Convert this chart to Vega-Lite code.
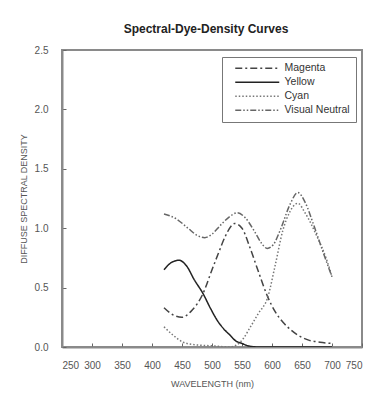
{
  "$schema": "https://vega.github.io/schema/vega-lite/v6.json",
  "width": 300,
  "height": 297,
  "autosize": "none",
  "padding": {"left": 62, "top": 50, "right": 22, "bottom": 53},
  "background": "white",
  "title": {"text": "Spectral-Dye-Density Curves", "font": "Liberation Sans", "fontSize": 12, "fontWeight": "bold", "color": "#222", "offset": 9, "dx": -6},
  "config": {
    "view": {"stroke": "#8a8a8a", "strokeWidth": 2},
    "font": "Liberation Sans"
  },
  "data": {"values": [
    {"series": "Magenta", "wavelength": 420, "density": 0.33},
    {"series": "Magenta", "wavelength": 435, "density": 0.27},
    {"series": "Magenta", "wavelength": 450, "density": 0.25},
    {"series": "Magenta", "wavelength": 465, "density": 0.30},
    {"series": "Magenta", "wavelength": 485, "density": 0.45},
    {"series": "Magenta", "wavelength": 500, "density": 0.65},
    {"series": "Magenta", "wavelength": 510, "density": 0.78},
    {"series": "Magenta", "wavelength": 522, "density": 0.93},
    {"series": "Magenta", "wavelength": 538, "density": 1.04},
    {"series": "Magenta", "wavelength": 550, "density": 1.00},
    {"series": "Magenta", "wavelength": 563, "density": 0.84},
    {"series": "Magenta", "wavelength": 577, "density": 0.64},
    {"series": "Magenta", "wavelength": 593, "density": 0.42},
    {"series": "Magenta", "wavelength": 605, "density": 0.30},
    {"series": "Magenta", "wavelength": 618, "density": 0.21},
    {"series": "Magenta", "wavelength": 630, "density": 0.15},
    {"series": "Magenta", "wavelength": 643, "density": 0.10},
    {"series": "Magenta", "wavelength": 660, "density": 0.06},
    {"series": "Magenta", "wavelength": 680, "density": 0.04},
    {"series": "Magenta", "wavelength": 700, "density": 0.03},
    {"series": "Yellow", "wavelength": 420, "density": 0.65},
    {"series": "Yellow", "wavelength": 432, "density": 0.71},
    {"series": "Yellow", "wavelength": 445, "density": 0.73},
    {"series": "Yellow", "wavelength": 458, "density": 0.68},
    {"series": "Yellow", "wavelength": 470, "density": 0.57},
    {"series": "Yellow", "wavelength": 485, "density": 0.45},
    {"series": "Yellow", "wavelength": 497, "density": 0.33},
    {"series": "Yellow", "wavelength": 508, "density": 0.23},
    {"series": "Yellow", "wavelength": 520, "density": 0.15},
    {"series": "Yellow", "wavelength": 530, "density": 0.10},
    {"series": "Yellow", "wavelength": 540, "density": 0.05},
    {"series": "Yellow", "wavelength": 550, "density": 0.03},
    {"series": "Yellow", "wavelength": 560, "density": 0.01},
    {"series": "Yellow", "wavelength": 580, "density": 0.0},
    {"series": "Yellow", "wavelength": 640, "density": 0.0},
    {"series": "Yellow", "wavelength": 700, "density": 0.0},
    {"series": "Cyan", "wavelength": 420, "density": 0.17},
    {"series": "Cyan", "wavelength": 435, "density": 0.10},
    {"series": "Cyan", "wavelength": 452, "density": 0.04},
    {"series": "Cyan", "wavelength": 470, "density": 0.02},
    {"series": "Cyan", "wavelength": 500, "density": 0.01},
    {"series": "Cyan", "wavelength": 530, "density": 0.0},
    {"series": "Cyan", "wavelength": 542, "density": 0.02},
    {"series": "Cyan", "wavelength": 552, "density": 0.07},
    {"series": "Cyan", "wavelength": 563, "density": 0.16},
    {"series": "Cyan", "wavelength": 577, "density": 0.28},
    {"series": "Cyan", "wavelength": 593, "density": 0.42},
    {"series": "Cyan", "wavelength": 605, "density": 0.68},
    {"series": "Cyan", "wavelength": 618, "density": 0.98},
    {"series": "Cyan", "wavelength": 630, "density": 1.14},
    {"series": "Cyan", "wavelength": 643, "density": 1.21},
    {"series": "Cyan", "wavelength": 655, "density": 1.13},
    {"series": "Cyan", "wavelength": 675, "density": 0.93},
    {"series": "Cyan", "wavelength": 690, "density": 0.75},
    {"series": "Cyan", "wavelength": 700, "density": 0.59},
    {"series": "Visual Neutral", "wavelength": 420, "density": 1.12},
    {"series": "Visual Neutral", "wavelength": 440, "density": 1.08},
    {"series": "Visual Neutral", "wavelength": 460, "density": 1.00},
    {"series": "Visual Neutral", "wavelength": 475, "density": 0.94},
    {"series": "Visual Neutral", "wavelength": 488, "density": 0.92},
    {"series": "Visual Neutral", "wavelength": 500, "density": 0.95},
    {"series": "Visual Neutral", "wavelength": 515, "density": 1.03},
    {"series": "Visual Neutral", "wavelength": 530, "density": 1.10},
    {"series": "Visual Neutral", "wavelength": 542, "density": 1.13},
    {"series": "Visual Neutral", "wavelength": 555, "density": 1.09},
    {"series": "Visual Neutral", "wavelength": 570, "density": 0.98},
    {"series": "Visual Neutral", "wavelength": 583, "density": 0.87},
    {"series": "Visual Neutral", "wavelength": 592, "density": 0.83},
    {"series": "Visual Neutral", "wavelength": 602, "density": 0.86},
    {"series": "Visual Neutral", "wavelength": 615, "density": 1.00},
    {"series": "Visual Neutral", "wavelength": 630, "density": 1.20},
    {"series": "Visual Neutral", "wavelength": 643, "density": 1.30},
    {"series": "Visual Neutral", "wavelength": 655, "density": 1.22},
    {"series": "Visual Neutral", "wavelength": 670, "density": 1.02},
    {"series": "Visual Neutral", "wavelength": 685, "density": 0.80},
    {"series": "Visual Neutral", "wavelength": 700, "density": 0.59}
  ]},
  "mark": {"type": "line", "interpolate": "monotone", "strokeWidth": 1.5, "clip": true},
  "encoding": {
    "x": {
      "field": "wavelength", "type": "quantitative",
      "scale": {"domain": [250, 750], "nice": false},
      "axis": {
        "title": "WAVELENGTH (nm)", "values": [250, 300, 350, 400, 450, 500, 550, 600, 650, 700, 750],
        "grid": false, "domainColor": "#8a8a8a", "domainWidth": 2,
        "tickColor": "#666", "tickSize": -4, "labelPadding": 17,
        "labelFontSize": 10, "labelColor": "#555", "labelFont": "Liberation Sans",
        "titleFontSize": 9, "titleFontWeight": "normal", "titleColor": "#555", "titlePadding": 9, "titleFont": "Liberation Sans"
      }
    },
    "y": {
      "field": "density", "type": "quantitative",
      "scale": {"domain": [0, 2.5], "nice": false},
      "axis": {
        "title": "DIFFUSE SPECTRAL DENSITY", "values": [0, 0.5, 1, 1.5, 2, 2.5], "format": ".1f",
        "grid": false, "domainColor": "#8a8a8a", "domainWidth": 2,
        "tickColor": "#666", "tickSize": -4, "labelPadding": 18,
        "labelFontSize": 10, "labelColor": "#555", "labelFont": "Liberation Sans",
        "titleFontSize": 9, "titleFontWeight": "normal", "titleColor": "#555", "titlePadding": 6, "titleFont": "Liberation Sans"
      }
    },
    "color": {
      "field": "series", "type": "nominal",
      "scale": {"domain": ["Magenta", "Yellow", "Cyan", "Visual Neutral"], "range": ["#444444", "#222222", "#777777", "#666666"]},
      "legend": {
        "title": null, "orient": "none", "legendX": 160, "legendY": 7,
        "strokeColor": "#777", "padding": 6, "fillColor": "white",
        "symbolType": "M1,0H23", "symbolSize": 16, "symbolStrokeWidth": 1.5,
        "labelFontSize": 10.5, "labelColor": "#333", "labelFont": "Liberation Sans", "rowPadding": 3, "labelOffset": 46
      }
    },
    "strokeDash": {
      "field": "series", "type": "nominal",
      "scale": {"domain": ["Magenta", "Yellow", "Cyan", "Visual Neutral"], "range": [[7, 3, 2, 3], [1, 0], [1.5, 2], [6, 2, 1.5, 2, 1.5, 2]]},
      "legend": null
    }
  }
}
